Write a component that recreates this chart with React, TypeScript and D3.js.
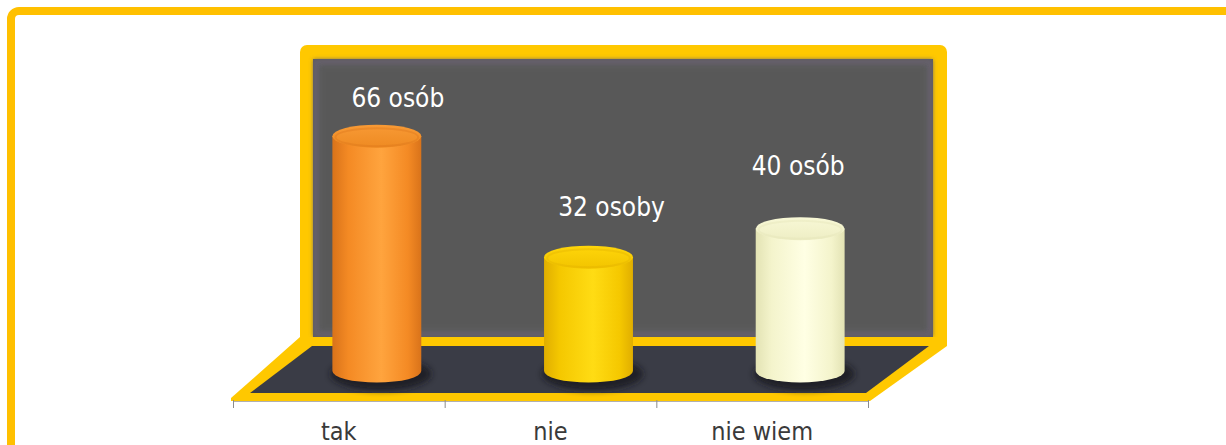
import React from "react";
import * as d3 from "d3";

const categories = ["tak", "nie", "nie wiem"];
const values = [66, 32, 40];
const valueLabels = ["66 osób", "32 osoby", "40 osób"];
// manual nudges of the value labels (px), as placed in the original chart
const labelNudgeX = [21, 23, -2];
const labelNudgeY = [-29, -41, -54];
const yDomain = [0, 70];

const W = 1226;
const H = 445;
const FONT = "'DejaVu Sans Condensed', 'DejaVu Sans', sans-serif";

const palettes = [
  { edge: "#D9731A", mid: "#F48A24", light: "#FFA43E", top: "#EE8A22", topLight: "#F89A35" },
  { edge: "#E0AE00", mid: "#F5C800", light: "#FFDC14", top: "#F2C400", topLight: "#FFD60A" },
  { edge: "#E3E3B4", mid: "#F4F4CC", light: "#FFFFE4", top: "#EEEEC4", topLight: "#F8F8D6" },
];

export default function App() {
  const x = d3.scaleBand<string>().domain(categories).range([233, 868]).padding(0);
  const baseY = 371;
  const y = d3.scaleLinear().domain(yDomain).range([baseY, 122]);
  const depthDx = 38;
  const rx = x.bandwidth() * 0.21;
  const ry = 11.5;

  const wall = { x0: 300, y0: 45, x1: 947, y1: 345, b: 13 };
  const floorOuter = [
    [300, 337], [947, 337], [947, 346], [870, 401], [231, 401], [231, 398],
  ];
  const floorInner = [
    [312, 346], [929, 346], [866, 393], [250, 393],
  ];
  const poly = (pts: number[][]) => "M" + pts.map((p) => p.join(",")).join("L") + "Z";

  return (
    <div style={{ position: "absolute", left: 0, top: 0 }}>
      <svg width={W} height={H} style={{ display: "block" }}>
        <defs>
          {palettes.map((p, i) => (
            <linearGradient key={"b" + i} id={"body" + i} x1="0" x2="1" y1="0" y2="0">
              <stop offset="0%" stopColor={p.edge} />
              <stop offset="18%" stopColor={p.mid} />
              <stop offset="55%" stopColor={p.light} />
              <stop offset="85%" stopColor={p.mid} />
              <stop offset="100%" stopColor={p.edge} />
            </linearGradient>
          ))}
          {palettes.map((p, i) => (
            <linearGradient key={"t" + i} id={"top" + i} x1="0" x2="0" y1="0" y2="1">
              <stop offset="0%" stopColor={p.topLight} />
              <stop offset="100%" stopColor={p.top} />
            </linearGradient>
          ))}
          <filter id="blur" x="-30%" y="-50%" width="160%" height="200%">
            <feGaussianBlur stdDeviation="3" />
          </filter>
          <filter id="soft" x="-5%" y="-5%" width="110%" height="110%">
            <feGaussianBlur stdDeviation="2" />
          </filter>
        </defs>

        <rect x={0} y={0} width={W} height={H} fill="#ffffff" />
        {/* outer frame */}
        <rect x={11} y={11} width={1240} height={460} rx={8} fill="#ffffff" stroke="#FFC000" strokeWidth={8} />

        {/* back wall */}
        <rect x={wall.x0} y={wall.y0} width={wall.x1 - wall.x0} height={wall.y1 - wall.y0} rx={7} fill="#FFC800" />
        <rect x={wall.x0 + wall.b} y={wall.y0 + wall.b + 1} width={wall.x1 - wall.x0 - 2 * wall.b - 1} height={wall.y1 - wall.y0 - wall.b - 9} fill="#5C5C5E" />
        <rect x={wall.x0 + wall.b + 3} y={wall.y0 + wall.b + 4} width={wall.x1 - wall.x0 - 2 * wall.b - 7} height={wall.y1 - wall.y0 - wall.b - 15} fill="none" stroke="#66606C" strokeWidth={5} filter="url(#soft)" />
        <rect x={wall.x0 + wall.b + 8} y={wall.y0 + wall.b + 9} width={wall.x1 - wall.x0 - 2 * wall.b - 17} height={wall.y1 - wall.y0 - wall.b - 25} fill="#595959" filter="url(#soft)" />

        {/* floor */}
        <path d={poly(floorOuter)} fill="#FFC800" />
        <path d={poly(floorInner)} fill="#3A3C46" />

        {/* axis line + ticks */}
        <line x1={233} x2={868} y1={401.5} y2={401.5} stroke="#B0B0B0" strokeWidth={1} />
        {[...categories.map((c) => x(c) as number), 868].map((tx, i) => (
          <line key={i} x1={tx + 0.5} x2={tx + 0.5} y1={400} y2={408} stroke="#8C8C8C" strokeWidth={1} />
        ))}

        {/* cylinders */}
        {categories.map((c, i) => {
          const cx = (x(c) as number) + x.bandwidth() / 2 + depthDx;
          const top = y(values[i]);
          const body = `M${cx - rx},${top} L${cx - rx},${baseY} A${rx},${ry} 0 0 0 ${cx + rx},${baseY} L${cx + rx},${top} Z`;
          return (
            <g key={c}>
              <ellipse cx={cx + 4} cy={baseY + 3} rx={rx + 6} ry={ry + 5} fill="#15151c" opacity={0.75} filter="url(#blur)" />
              <path d={body} fill={`url(#body${i})`} />
              <ellipse cx={cx} cy={top} rx={rx} ry={ry} fill={`url(#top${i})`} />
              <ellipse cx={cx} cy={top + 1} rx={rx - 3} ry={ry - 2.5} fill="none" stroke={palettes[i].edge} strokeOpacity={0.35} strokeWidth={2} />
            </g>
          );
        })}

        {/* value labels */}
        {categories.map((c, i) => {
          const cx = (x(c) as number) + x.bandwidth() / 2 + depthDx;
          return (
            <text key={"v" + c} x={cx + labelNudgeX[i]} y={y(values[i]) + labelNudgeY[i]} textAnchor="middle" fill="#ffffff" fontFamily={FONT} fontSize={26}>
              {valueLabels[i]}
            </text>
          );
        })}

        {/* category labels */}
        {categories.map((c) => (
          <text key={"c" + c} x={(x(c) as number) + x.bandwidth() / 2} y={440} textAnchor="middle" fill="#3A3A3A" fontFamily={FONT} fontSize={25}>
            {c}
          </text>
        ))}
      </svg>
    </div>
  );
}
